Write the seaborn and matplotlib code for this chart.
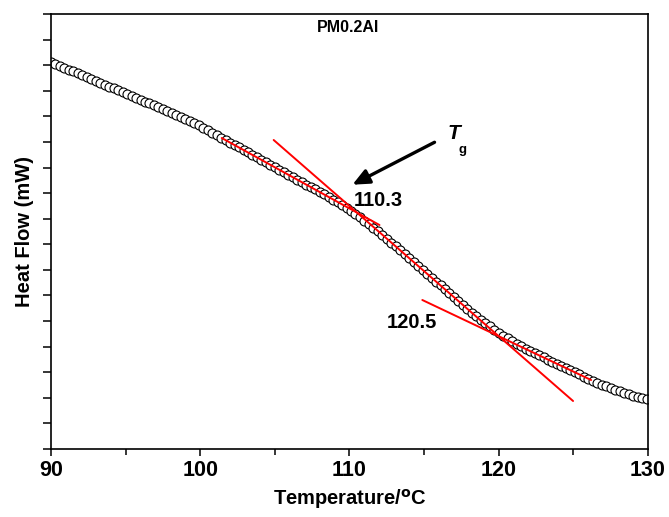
import matplotlib
matplotlib.use('Agg')
import matplotlib.pyplot as plt
import seaborn as sns
import pandas as pd
from matplotlib.ticker import MultipleLocator, NullFormatter

# DSC curve of PM0.2Al (heat flow in arbitrary units)
temperature = [
    90.0, 90.3, 90.6, 90.9, 91.2, 91.5, 91.8, 92.1, 92.4, 92.7,
    93.0, 93.3, 93.6, 93.9, 94.2, 94.5, 94.8, 95.1, 95.4, 95.7,
    96.0, 96.3, 96.6, 96.9, 97.2, 97.5, 97.8, 98.1, 98.4, 98.7,
    99.0, 99.3, 99.6, 99.9, 100.2, 100.5, 100.8, 101.1, 101.4, 101.7,
    102.0, 102.3, 102.6, 102.9, 103.2, 103.5, 103.8, 104.1, 104.4, 104.7,
    105.0, 105.3, 105.6, 105.9, 106.2, 106.5, 106.8, 107.1, 107.4, 107.7,
    108.0, 108.3, 108.6, 108.9, 109.2, 109.5, 109.8, 110.1, 110.4, 110.7,
    111.0, 111.3, 111.6, 111.9, 112.2, 112.5, 112.8, 113.1, 113.4, 113.7,
    114.0, 114.3, 114.6, 114.9, 115.2, 115.5, 115.8, 116.1, 116.4, 116.7,
    117.0, 117.3, 117.6, 117.9, 118.2, 118.5, 118.8, 119.1, 119.4, 119.7,
    120.0, 120.3, 120.6, 120.9, 121.2, 121.5, 121.8, 122.1, 122.4, 122.7,
    123.0, 123.3, 123.6, 123.9, 124.2, 124.5, 124.8, 125.1, 125.4, 125.7,
    126.0, 126.3, 126.6, 126.9, 127.2, 127.5, 127.8, 128.1, 128.4, 128.7,
    129.0, 129.3, 129.6, 129.9]
heat_flow = [
    15.120, 15.047, 14.973, 14.900, 14.826, 14.753, 14.679, 14.606, 14.532, 14.459,
    14.385, 14.312, 14.238, 14.165, 14.091, 14.018, 13.944, 13.871, 13.797, 13.724,
    13.650, 13.577, 13.503, 13.430, 13.356, 13.283, 13.209, 13.136, 13.061, 12.984,
    12.904, 12.821, 12.735, 12.646, 12.554, 12.460, 12.364, 12.267, 12.170, 12.073,
    11.977, 11.880, 11.784, 11.687, 11.591, 11.494, 11.398, 11.301, 11.205, 11.108,
    11.012, 10.915, 10.819, 10.722, 10.626, 10.529, 10.433, 10.336, 10.240, 10.143,
    10.047, 9.950, 9.852, 9.749, 9.643, 9.532, 9.418, 9.299, 9.177, 9.050,
    8.920, 8.785, 8.647, 8.504, 8.358, 8.207, 8.068, 7.916, 7.763, 7.610,
    7.458, 7.305, 7.153, 7.000, 6.848, 6.695, 6.543, 6.390, 6.237, 6.085,
    5.932, 5.780, 5.627, 5.477, 5.331, 5.189, 5.052, 4.919, 4.790, 4.666,
    4.546, 4.430, 4.319, 4.212, 4.110, 4.012, 3.918, 3.828, 3.743, 3.660,
    3.577, 3.494, 3.411, 3.328, 3.245, 3.162, 3.079, 2.996, 2.913, 2.831,
    2.748, 2.667, 2.589, 2.514, 2.443, 2.375, 2.311, 2.250, 2.192, 2.138,
    2.087, 2.040, 1.996, 1.955]

# tangent lines (end points)
tan_glass_T = [101.44, 112.01]
tan_glass_y = [12.153, 8.753]
tan_step_T = [104.92, 124.98]
tan_step_y = [12.075, 1.876]
tan_rubber_T = [114.88, 126.19]
tan_rubber_y = [5.823, 2.696]

tg_onset = '110.3'
tg_end = '120.5'
sample = 'PM0.2Al'
x_ticks = [90, 100, 110, 120, 130]

sns.set_style('ticks')
plt.rcParams['font.family'] = ['Liberation Sans', 'DejaVu Sans']
plt.rcParams['font.weight'] = 'bold'
for k in ['text.color', 'axes.labelcolor', 'xtick.color', 'ytick.color', 'axes.edgecolor']:
    plt.rcParams[k] = 'black'

df = pd.DataFrame({'T': temperature, 'HF': heat_flow})

fig = plt.figure(figsize=(6.69, 5.17), dpi=100)
ax = fig.add_axes([0.0762, 0.1315, 0.8924, 0.8415])

sns.scatterplot(data=df, x='T', y='HF', ax=ax, marker='o', s=42,
                facecolor='white', edgecolor='black', linewidth=0.8, zorder=2)

for tx, ty in [(tan_glass_T, tan_glass_y), (tan_step_T, tan_step_y),
               (tan_rubber_T, tan_rubber_y)]:
    sns.lineplot(x=tx, y=ty, ax=ax, color='red', linewidth=1.4, zorder=3)

ax.set_xlim(90, 130)
ax.set_ylim(0, 17)
ax.set_xticks(x_ticks)
ax.xaxis.set_minor_locator(MultipleLocator(5))
ax.yaxis.set_major_locator(MultipleLocator(1))
ax.yaxis.set_major_formatter(NullFormatter())
ax.tick_params(axis='x', which='major', direction='out', length=5, width=1.1,
               labelsize=15.5, pad=3)
ax.tick_params(axis='x', which='minor', direction='out', length=4.5, width=1.1)
ax.tick_params(axis='y', which='major', direction='out', length=6, width=1.1)
for lab in ax.get_xticklabels():
    lab.set_fontweight('bold')
for sp in ax.spines.values():
    sp.set_linewidth(1.2)
    sp.set_visible(True)

ax.set_xlabel('Temperature/$^\\mathbf{o}$C', fontsize=14.5, fontweight='bold', labelpad=4)
ax.set_ylabel('Heat Flow (mW)', fontsize=14.5, fontweight='bold', labelpad=3)

ax.text(0.4975, 0.970, sample, transform=ax.transAxes, ha='center', va='center',
        fontsize=11.5, fontweight='bold')
ax.text(0.549, 0.572, tg_onset, transform=ax.transAxes, ha='center', va='center',
        fontsize=14.5, fontweight='bold')
ax.text(0.605, 0.290, tg_end, transform=ax.transAxes, ha='center', va='center',
        fontsize=14.5, fontweight='bold')
ax.text(0.675, 0.726, 'T', transform=ax.transAxes, ha='center', va='center',
        fontsize=15, fontweight='bold', fontstyle='italic')
ax.text(0.689, 0.688, 'g', transform=ax.transAxes, ha='center', va='center',
        fontsize=9.5, fontweight='bold')
ax.annotate('', xy=(0.5008, 0.6046), xytext=(0.6466, 0.708),
            xycoords='axes fraction', textcoords='axes fraction',
            arrowprops=dict(arrowstyle='-|>,head_length=1.0,head_width=0.45',
                            color='black', lw=2.4))

fig.savefig('out.png', dpi=100)
